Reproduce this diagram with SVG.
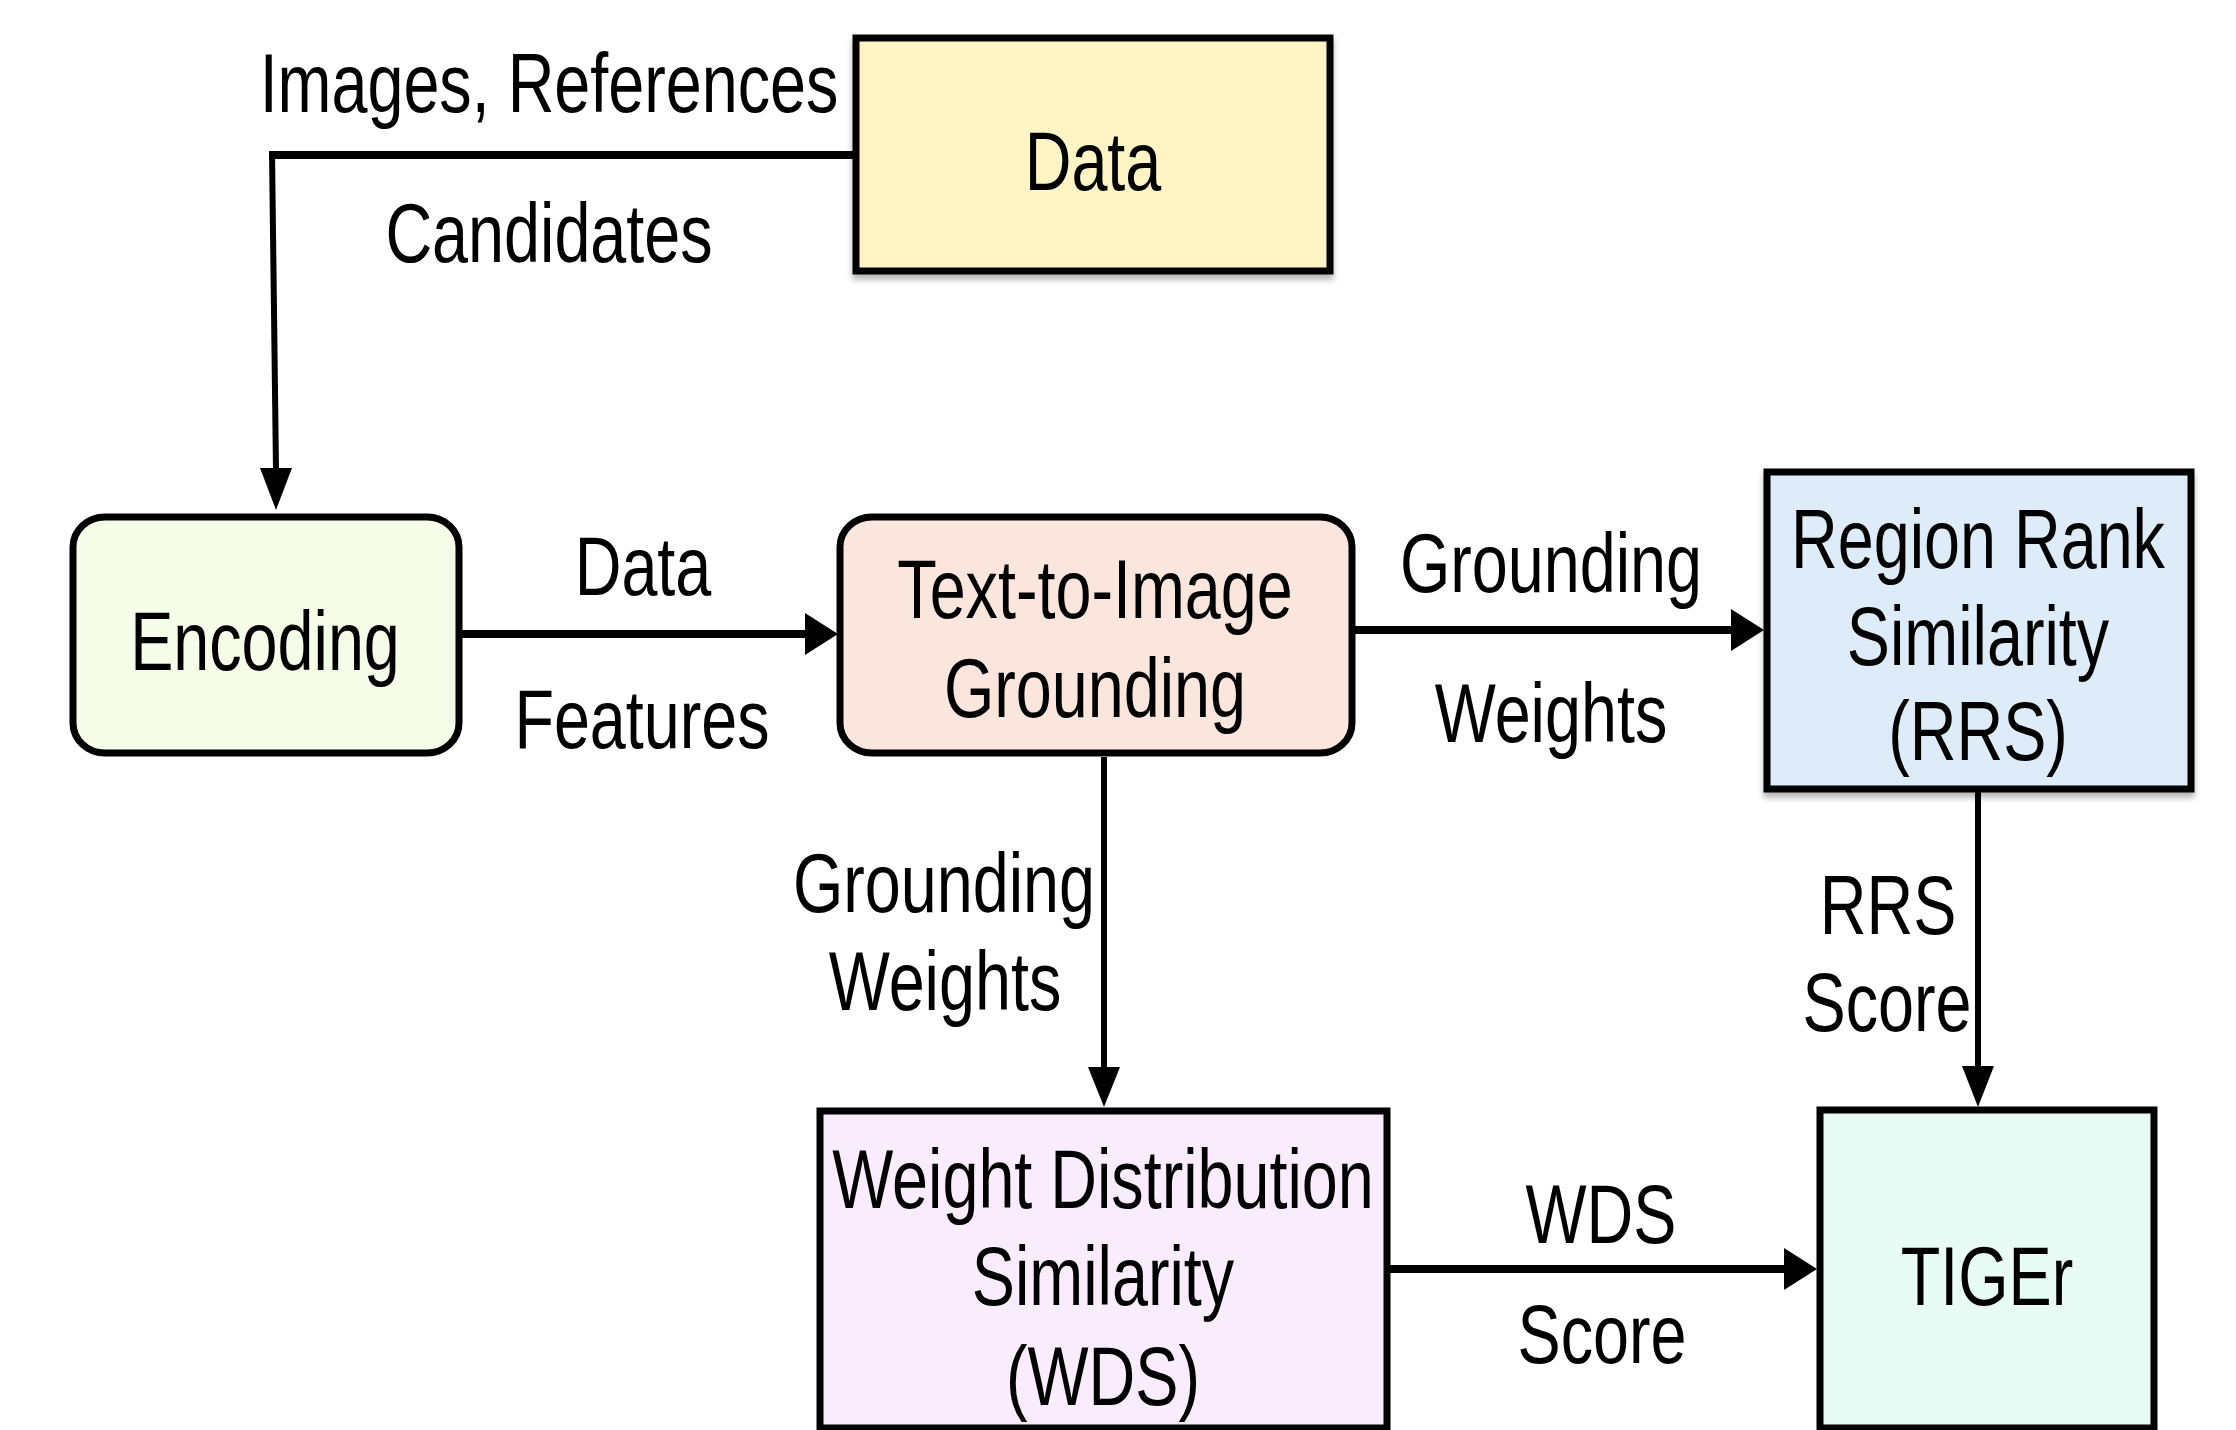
<svg xmlns="http://www.w3.org/2000/svg" width="2236" height="1430" viewBox="0 0 2236 1430">
<defs>
<style>
.box{stroke:#000;stroke-width:7;}
.t{font-family:"Liberation Sans",Arial,sans-serif;font-size:84px;fill:#000;text-anchor:middle;}
.c{stroke:#000;stroke-width:6;fill:none;}
.ch{stroke:#000;stroke-width:8;fill:none;}
.ah{fill:#000;stroke:none;}
</style>
<filter id="sh" x="-5%" y="-5%" width="115%" height="120%">
<feDropShadow dx="0" dy="5" stdDeviation="3" flood-color="#000" flood-opacity="0.3"/>
</filter>
</defs>
<rect width="2236" height="1430" fill="#fff"/>

<g id="connectors">
<line class="ch" x1="856" y1="155" x2="269" y2="155"/>
<line class="c" x1="272" y1="152" x2="276" y2="470"/>
<polygon class="ah" points="260,468 292,468 276,510"/>
<line class="ch" x1="462" y1="634" x2="808" y2="634"/>
<polygon class="ah" points="805,613 805,655 838,634"/>
<line class="ch" x1="1355" y1="630" x2="1735" y2="630"/>
<polygon class="ah" points="1731,609 1731,651 1764,630"/>
<line class="c" x1="1104" y1="757" x2="1104" y2="1070"/>
<polygon class="ah" points="1088,1067 1120,1067 1104,1107"/>
<line class="c" x1="1978" y1="792" x2="1978" y2="1070"/>
<polygon class="ah" points="1962,1066 1994,1066 1978,1107"/>
<line class="ch" x1="1390" y1="1269" x2="1787" y2="1269"/>
<polygon class="ah" points="1784,1248 1784,1290 1817,1269"/>
<text class="t" transform="translate(549,112) scale(0.77,1)">Images, References</text>
<text class="t" transform="translate(549,262) scale(0.77,1)">Candidates</text>
<text class="t" transform="translate(643,595) scale(0.77,1)">Data</text>
<text class="t" transform="translate(642,748) scale(0.77,1)">Features</text>
<text class="t" transform="translate(1551,592) scale(0.77,1)">Grounding</text>
<text class="t" transform="translate(1551,742) scale(0.77,1)">Weights</text>
<text class="t" transform="translate(944,912) scale(0.77,1)">Grounding</text>
<text class="t" transform="translate(945,1010) scale(0.77,1)">Weights</text>
<text class="t" transform="translate(1888,934) scale(0.77,1)">RRS</text>
<text class="t" transform="translate(1887,1031) scale(0.77,1)">Score</text>
<text class="t" transform="translate(1601,1243) scale(0.77,1)">WDS</text>
<text class="t" transform="translate(1602,1363) scale(0.77,1)">Score</text>
</g>

<g id="data">
<rect class="box" x="856" y="38" width="474" height="233" fill="#FFF5C4" filter="url(#sh)"/>
<text class="t" transform="translate(1093,190) scale(0.77,1)">Data</text>
</g>

<g id="encoding">
<rect class="box" x="73" y="517" width="386" height="236" rx="32" ry="30" fill="#F5FCE8"/>
<text class="t" transform="translate(265,670) scale(0.77,1)">Encoding</text>
</g>

<g id="grounding">
<rect class="box" x="840" y="517" width="512" height="236" rx="32" ry="30" fill="#FBE6DE"/>
<text class="t" transform="translate(1095,618) scale(0.77,1)">Text-to-Image</text>
<text class="t" transform="translate(1095,717) scale(0.77,1)">Grounding</text>
</g>

<g id="rrs">
<rect class="box" x="1767" y="472" width="424" height="317" fill="#DEECF9" filter="url(#sh)"/>
<text class="t" transform="translate(1978,568) scale(0.77,1)">Region Rank</text>
<text class="t" transform="translate(1978,665) scale(0.77,1)">Similarity</text>
<text class="t" transform="translate(1978,760) scale(0.77,1)">(RRS)</text>
</g>

<g id="wds">
<rect class="box" x="820" y="1111" width="567" height="317" fill="#F9ECFC"/>
<text class="t" transform="translate(1103,1208) scale(0.77,1)">Weight Distribution</text>
<text class="t" transform="translate(1103,1305) scale(0.77,1)">Similarity</text>
<text class="t" transform="translate(1103,1405) scale(0.77,1)">(WDS)</text>
</g>

<g id="tiger">
<rect class="box" x="1820" y="1110" width="334" height="318" fill="#E8FBF4"/>
<text class="t" transform="translate(1987,1305) scale(0.77,1)">TIGEr</text>
</g>
</svg>
